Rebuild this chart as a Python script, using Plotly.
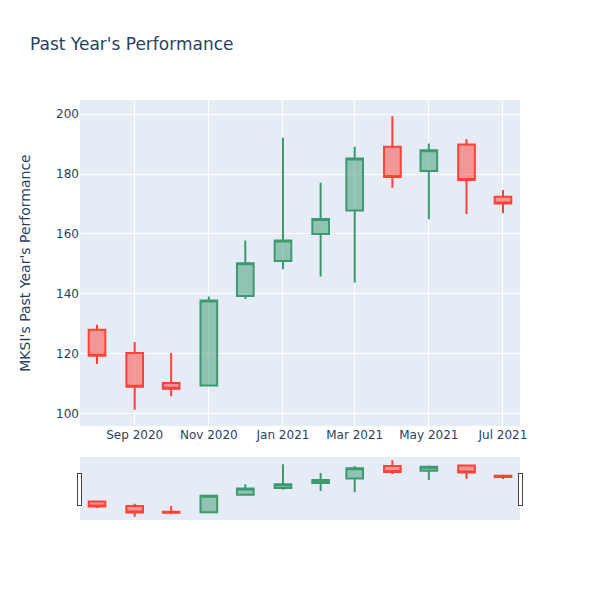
import plotly.graph_objects as go

dates = ["2020-08-01", "2020-09-01", "2020-10-01", "2020-11-01", "2020-12-01", "2021-01-01",
         "2021-02-01", "2021-03-01", "2021-04-01", "2021-05-01", "2021-06-01", "2021-07-01"]
opens = [128.0, 120.2, 110.2, 109.4, 139.3, 151.0, 160.0, 167.8, 189.1, 181.0, 189.9, 172.4]
highs = [129.7, 123.9, 120.2, 139.1, 157.8, 192.1, 177.1, 189.1, 199.3, 190.2, 191.6, 174.7]
lows = [116.6, 101.3, 105.8, 109.3, 138.3, 148.2, 145.8, 143.8, 175.4, 164.9, 166.7, 166.9]
closes = [119.3, 109.0, 108.3, 137.8, 150.2, 157.8, 165.0, 185.2, 179.0, 188.0, 178.0, 170.2]

fig = go.Figure(go.Candlestick(x=dates, open=opens, high=highs, low=lows, close=closes))

# page body adds an 8px offset, so margins are shifted to compensate
fig.update_layout(
    title=dict(text="Past Year's Performance", x=22 / 600, y=1 - 36 / 600, yanchor="middle"),
    font_family="DejaVu Sans",
    width=600, height=600,
    margin=dict(l=72, r=88, t=92, b=88),
)
fig.update_yaxes(title=dict(text="MKSI's Past Year's Performance", standoff=22))

fig.write_html("out.html")
